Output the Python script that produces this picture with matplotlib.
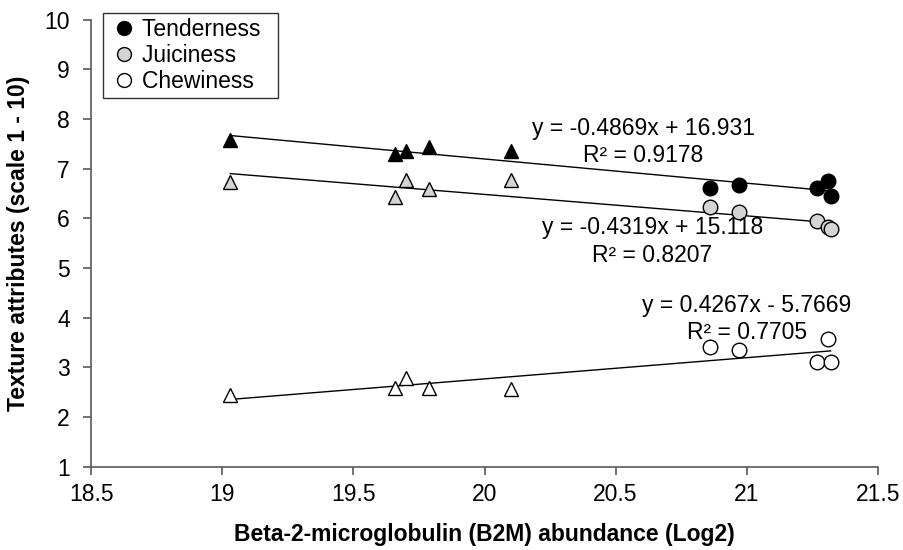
import numpy as np
import matplotlib
matplotlib.use("Agg")
import matplotlib.pyplot as plt
from matplotlib.lines import Line2D

plt.rcParams['font.family'] = ['Liberation Sans', 'DejaVu Sans']

# B2M abundance (Log2) per sample; first five drawn as triangles, last five as circles
b2m = [19.03, 19.66, 19.70, 19.79, 20.10, 20.86, 20.97, 21.27, 21.31, 21.32]
tenderness = [7.58, 7.29, 7.35, 7.43, 7.35, 6.60, 6.67, 6.60, 6.74, 6.45]
juiciness = [6.72, 6.43, 6.78, 6.58, 6.78, 6.22, 6.13, 5.95, 5.82, 5.78]
chewiness = [2.44, 2.58, 2.78, 2.58, 2.57, 3.41, 3.35, 3.11, 3.57, 3.11]

names = ["Tenderness", "Juiciness", "Chewiness"]
fills = ["black", "#d4d4d4", "white"]
slopes = [-0.4869, -0.4319, 0.4267]
intercepts = [16.931, 15.118, -5.7669]
r2 = [0.9178, 0.8207, 0.7705]
eq_pos = [(20.605, 7.535), (20.64, 5.533), (21.0, 3.974)]

fig = plt.figure(figsize=(9.04, 5.5), dpi=100)
ax = fig.add_axes([0.101, 0.1515, 0.870, 0.813])

x = np.array(b2m)
for vals, name, fc, m, b, r, pos in zip([tenderness, juiciness, chewiness], names,
                                       fills, slopes, intercepts, r2, eq_pos):
    v = np.array(vals)
    xs = np.array([x.min(), x.max()])
    ax.plot(xs, m * xs + b, color="black", lw=1.0, zorder=2)
    ax.plot(x[:5], v[:5], ls="none", marker="^", ms=10, mfc=fc, mec="black",
            mew=1.0, zorder=3)
    ax.plot(x[5:], v[5:], ls="none", marker="o", ms=10.5, mfc=fc, mec="black",
            mew=1.0, zorder=3)
    sign = "-" if b < 0 else "+"
    ax.text(pos[0], pos[1], f"y = {m}x {sign} {abs(b)}\nR² = {r}",
            ha="center", va="center", fontsize=16.5, linespacing=1.25)

ax.set_xlim(18.5, 21.5)
ax.set_ylim(1, 10)
ax.set_xticks(np.arange(18.5, 21.51, 0.5))
ax.set_xticklabels(["18.5", "19", "19.5", "20", "20.5", "21", "21.5"])
ax.set_yticks(range(1, 11))
for s in ["top", "right"]:
    ax.spines[s].set_visible(False)
for s in ["left", "bottom"]:
    ax.spines[s].set_color("#595959")
    ax.spines[s].set_linewidth(1.2)
ax.tick_params(axis="both", direction="out", length=6, width=1.2, color="#595959",
               labelsize=16.5)
ax.tick_params(axis="x", pad=6)
ax.tick_params(axis="y", pad=9.5)

ax.set_xlabel("Beta-2-microglobulin (B2M) abundance (Log2)", fontsize=16.5,
              fontweight="bold", labelpad=12)
ax.set_ylabel("Texture attributes (scale 1 - 10)", fontsize=16.5,
              fontweight="bold", labelpad=10)

handles = [Line2D([], [], ls="none", marker="o", ms=10, mfc=fc, mec="black", mew=1.0)
           for fc in fills]
leg = ax.legend(handles, [n + "  " for n in names], loc="upper left",
                bbox_to_anchor=(0.015, 1.0145), fontsize=16.5, frameon=True,
                fancybox=False, handlelength=1.4, handletextpad=0.1, borderpad=0.2,
                labelspacing=0.15, borderaxespad=0)
leg.get_frame().set_edgecolor("black")
leg.get_frame().set_linewidth(1.0)

fig.savefig("out.png", dpi=100)
